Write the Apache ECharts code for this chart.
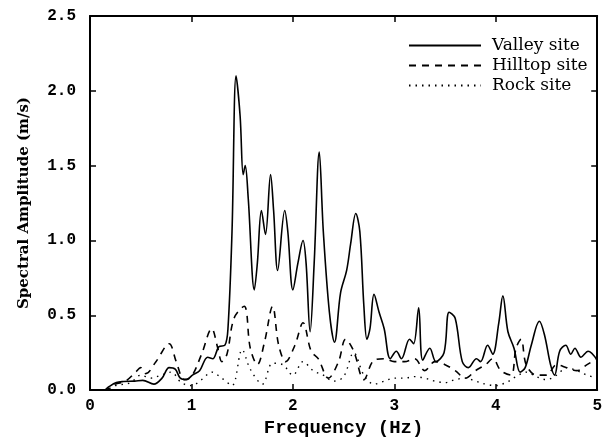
<!DOCTYPE html>
<html>
<head>
<meta charset="utf-8">
<script src="https://cdn.jsdelivr.net/npm/echarts@6/dist/echarts.min.js"></script>
<style>
  html, body { margin: 0; padding: 0; background: #fff; }
  #main { width: 605px; height: 443px; }
</style>
</head>
<body>
<div id="main"></div>
<script>
// Valley site (solid)
var valleyHz = [0, 0.14, 0.18, 0.26, 0.33, 0.44, 0.52, 0.63, 0.71, 0.78, 0.84, 0.89, 0.95, 1.01, 1.08, 1.16, 1.21, 1.27, 1.33, 1.36, 1.40, 1.44, 1.48, 1.51, 1.53, 1.56, 1.62, 1.65, 1.69, 1.73, 1.78, 1.81, 1.85, 1.92, 1.95, 2.00, 2.05, 2.10, 2.13, 2.17, 2.21, 2.26, 2.30, 2.36, 2.41, 2.47, 2.53, 2.57, 2.62, 2.66, 2.70, 2.73, 2.76, 2.80, 2.85, 2.90, 2.96, 3.02, 3.07, 3.15, 3.19, 3.24, 3.28, 3.35, 3.41, 3.49, 3.54, 3.60, 3.67, 3.73, 3.81, 3.85, 3.92, 3.97, 4.03, 4.07, 4.12, 4.18, 4.24, 4.29, 4.35, 4.43, 4.48, 4.54, 4.58, 4.63, 4.69, 4.74, 4.78, 4.84, 4.91, 5.00];
var valley = [0, 0, 0.02, 0.05, 0.057, 0.06, 0.065, 0.04, 0.08, 0.15, 0.14, 0.08, 0.07, 0.10, 0.13, 0.22, 0.21, 0.29, 0.30, 0.41, 1.06, 2.10, 1.83, 1.44, 1.50, 1.28, 0.67, 0.85, 1.20, 1.04, 1.44, 1.20, 0.80, 1.20, 1.06, 0.67, 0.85, 1.00, 0.85, 0.39, 0.85, 1.59, 1.06, 0.52, 0.32, 0.65, 0.80, 0.98, 1.18, 1.06, 0.56, 0.34, 0.41, 0.64, 0.52, 0.41, 0.21, 0.26, 0.21, 0.34, 0.31, 0.55, 0.20, 0.28, 0.19, 0.25, 0.52, 0.48, 0.19, 0.15, 0.21, 0.19, 0.30, 0.24, 0.45, 0.63, 0.39, 0.28, 0.12, 0.15, 0.30, 0.46, 0.37, 0.17, 0.10, 0.26, 0.30, 0.24, 0.28, 0.22, 0.26, 0.20];

// Hilltop site (dashed)
var hilltopHz = [0, 0.14, 0.25, 0.35, 0.45, 0.50, 0.55, 0.65, 0.78, 0.85, 0.93, 1.00, 1.10, 1.20, 1.26, 1.30, 1.35, 1.42, 1.52, 1.58, 1.65, 1.72, 1.80, 1.86, 1.93, 2.02, 2.10, 2.18, 2.25, 2.35, 2.45, 2.52, 2.60, 2.70, 2.80, 2.90, 3.00, 3.10, 3.20, 3.30, 3.40, 3.50, 3.60, 3.70, 3.80, 3.90, 3.97, 4.05, 4.15, 4.20, 4.25, 4.30, 4.40, 4.50, 4.60, 4.70, 4.80, 4.90, 5.00];
var hilltop = [0, 0, 0.04, 0.06, 0.12, 0.15, 0.11, 0.19, 0.31, 0.19, 0.07, 0.09, 0.24, 0.41, 0.28, 0.19, 0.24, 0.48, 0.56, 0.28, 0.17, 0.32, 0.56, 0.30, 0.19, 0.30, 0.45, 0.26, 0.21, 0.08, 0.19, 0.34, 0.26, 0.07, 0.20, 0.21, 0.19, 0.19, 0.21, 0.13, 0.19, 0.17, 0.13, 0.08, 0.13, 0.17, 0.21, 0.13, 0.10, 0.28, 0.34, 0.17, 0.10, 0.10, 0.17, 0.15, 0.13, 0.17, 0.21];

// Rock site (dotted)
var rockHz = [0, 0.14, 0.25, 0.40, 0.50, 0.60, 0.70, 0.80, 0.90, 1.00, 1.10, 1.20, 1.30, 1.40, 1.50, 1.58, 1.70, 1.80, 1.90, 2.00, 2.10, 2.20, 2.30, 2.40, 2.50, 2.60, 2.70, 2.80, 2.90, 3.00, 3.10, 3.20, 3.30, 3.40, 3.50, 3.60, 3.70, 3.80, 3.90, 4.00, 4.10, 4.20, 4.30, 4.40, 4.50, 4.60, 4.70, 4.80, 4.90, 5.00];
var rock = [0, 0, 0.03, 0.05, 0.10, 0.08, 0.10, 0.12, 0.05, 0.03, 0.07, 0.12, 0.08, 0.03, 0.27, 0.14, 0.04, 0.18, 0.17, 0.10, 0.19, 0.13, 0.10, 0.06, 0.09, 0.25, 0.10, 0.04, 0.06, 0.08, 0.08, 0.09, 0.08, 0.06, 0.05, 0.07, 0.08, 0.06, 0.04, 0.03, 0.05, 0.09, 0.12, 0.09, 0.07, 0.10, 0.15, 0.13, 0.10, 0.08];

var seriesNames = ['Valley site', 'Hilltop site', 'Rock site'];

function pairs(xs, ys) {
    var out = [];
    for (var i = 0; i < xs.length; i++) {
        out.push([xs[i], ys[i]]);
    }
    return out;
}

var frameTick = { show: true, inside: true, length: 6, lineStyle: { color: '#000', width: 1.5 } };
var frameLine = { show: true, onZero: false, lineStyle: { color: '#000', width: 2 } };

var myChart = echarts.init(document.getElementById('main'));
var option = {
    backgroundColor: '#fff',
    animation: false,
    grid: {
        left: 90,
        right: 2,
        top: 16,
        bottom: 48
    },
    legend: {
        orient: 'vertical',
        left: 403,
        top: 32,
        itemWidth: 72,
        itemHeight: 14,
        itemGap: 3,
        itemStyle: { opacity: 0 },
        textStyle: {
            fontFamily: 'DejaVu Serif',
            fontSize: 17,
            color: '#000',
            padding: [0, 0, 0, 6]
        },
        data: seriesNames
    },
    xAxis: [
        {
            type: 'value',
            min: 0,
            max: 5,
            interval: 1,
            name: 'Frequency (Hz)',
            nameLocation: 'middle',
            nameGap: 28,
            nameTextStyle: {
                fontFamily: 'Liberation Mono',
                fontWeight: 'bold',
                fontSize: 19,
                color: '#000'
            },
            axisLine: frameLine,
            axisTick: frameTick,
            axisLabel: {
                fontFamily: 'Liberation Mono',
                fontWeight: 'bold',
                fontSize: 16,
                color: '#000',
                margin: 8
            },
            splitLine: { show: false }
        },
        {
            type: 'value',
            min: 0,
            max: 5,
            interval: 1,
            position: 'top',
            axisLine: frameLine,
            axisTick: frameTick,
            axisLabel: { show: false },
            splitLine: { show: false }
        }
    ],
    yAxis: [
        {
            type: 'value',
            min: 0,
            max: 2.5,
            interval: 0.5,
            name: 'Spectral Amplitude (m/s)',
            nameLocation: 'middle',
            nameGap: 58,
            nameTextStyle: {
                fontFamily: 'DejaVu Serif',
                fontWeight: 'bold',
                fontSize: 15,
                color: '#000'
            },
            axisLine: frameLine,
            axisTick: frameTick,
            axisLabel: {
                fontFamily: 'Liberation Mono',
                fontWeight: 'bold',
                fontSize: 16,
                color: '#000',
                margin: 14,
                formatter: function (v) { return v.toFixed(1); }
            },
            splitLine: { show: false }
        },
        {
            type: 'value',
            min: 0,
            max: 2.5,
            interval: 0.5,
            position: 'right',
            axisLine: frameLine,
            axisTick: frameTick,
            axisLabel: { show: false },
            splitLine: { show: false }
        }
    ],
    series: [
        {
            name: seriesNames[0],
            type: 'line',
            smooth: 0.35,
            symbol: 'none',
            lineStyle: { color: '#000', width: 1.6, type: 'solid' },
            itemStyle: { color: '#000' },
            data: pairs(valleyHz, valley)
        },
        {
            name: seriesNames[1],
            type: 'line',
            smooth: 0.35,
            symbol: 'none',
            lineStyle: { color: '#000', width: 1.6, type: [7, 6] },
            itemStyle: { color: '#000' },
            data: pairs(hilltopHz, hilltop)
        },
        {
            name: seriesNames[2],
            type: 'line',
            smooth: 0.35,
            symbol: 'none',
            lineStyle: { color: '#000', width: 1.4, type: [1.5, 5] },
            itemStyle: { color: '#000' },
            data: pairs(rockHz, rock)
        }
    ]
};
myChart.setOption(option);
</script>
</body>
</html>
